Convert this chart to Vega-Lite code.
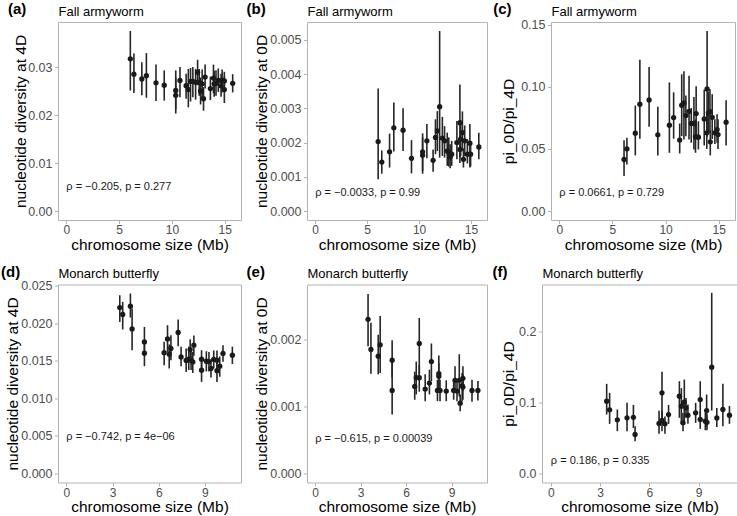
{
  "$schema": "https://vega.github.io/schema/vega-lite/v6.json",
  "padding": {"left": 0, "top": 1, "right": 0, "bottom": 0},
  "spacing": 10.5,
  "datasets": {
    "fa4d": [
      {"size": 6.06, "pi": 0.0317, "lo": 0.0251, "hi": 0.0375},
      {"size": 6.4, "pi": 0.0285, "lo": 0.0246, "hi": 0.0328},
      {"size": 7.15, "pi": 0.0275, "lo": 0.0241, "hi": 0.031},
      {"size": 7.58, "pi": 0.0282, "lo": 0.0236, "hi": 0.0329},
      {"size": 8.49, "pi": 0.0267, "lo": 0.0229, "hi": 0.0305},
      {"size": 9.27, "pi": 0.0262, "lo": 0.023, "hi": 0.0293},
      {"size": 10.36, "pi": 0.0251, "lo": 0.0212, "hi": 0.0293},
      {"size": 10.36, "pi": 0.0241, "lo": 0.0203, "hi": 0.0278},
      {"size": 10.76, "pi": 0.0272, "lo": 0.0237, "hi": 0.03},
      {"size": 11.34, "pi": 0.0261, "lo": 0.0234, "hi": 0.0286},
      {"size": 11.55, "pi": 0.0253, "lo": 0.0216, "hi": 0.0296},
      {"size": 11.76, "pi": 0.027, "lo": 0.0228, "hi": 0.0298},
      {"size": 11.98, "pi": 0.027, "lo": 0.0237, "hi": 0.03},
      {"size": 12.24, "pi": 0.0268, "lo": 0.0232, "hi": 0.0296},
      {"size": 12.43, "pi": 0.0289, "lo": 0.0262, "hi": 0.0315},
      {"size": 12.58, "pi": 0.0268, "lo": 0.024, "hi": 0.0296},
      {"size": 12.71, "pi": 0.025, "lo": 0.0222, "hi": 0.0278},
      {"size": 12.86, "pi": 0.0265, "lo": 0.0236, "hi": 0.0295},
      {"size": 12.99, "pi": 0.0234, "lo": 0.0209, "hi": 0.0258},
      {"size": 13.14, "pi": 0.0279, "lo": 0.0255, "hi": 0.0305},
      {"size": 13.64, "pi": 0.0255, "lo": 0.0231, "hi": 0.028},
      {"size": 13.93, "pi": 0.0277, "lo": 0.0245, "hi": 0.0305},
      {"size": 14.0, "pi": 0.0265, "lo": 0.0238, "hi": 0.0292},
      {"size": 14.17, "pi": 0.0266, "lo": 0.024, "hi": 0.0293},
      {"size": 14.39, "pi": 0.0272, "lo": 0.0248, "hi": 0.0297},
      {"size": 14.65, "pi": 0.0261, "lo": 0.0238, "hi": 0.0286},
      {"size": 14.75, "pi": 0.0272, "lo": 0.0247, "hi": 0.0295},
      {"size": 14.96, "pi": 0.0271, "lo": 0.0252, "hi": 0.029},
      {"size": 14.96, "pi": 0.0253, "lo": 0.0225, "hi": 0.028},
      {"size": 15.75, "pi": 0.0266, "lo": 0.0247, "hi": 0.0285}
    ],
    "fa0d": [
      {"size": 6.06, "pi": 0.00203, "lo": 0.00093, "hi": 0.00358},
      {"size": 6.41, "pi": 0.00143, "lo": 0.00109, "hi": 0.00177},
      {"size": 7.16, "pi": 0.00173, "lo": 0.00127, "hi": 0.00226},
      {"size": 7.57, "pi": 0.00243, "lo": 0.00174, "hi": 0.00317},
      {"size": 8.46, "pi": 0.00236, "lo": 0.00175, "hi": 0.003},
      {"size": 9.27, "pi": 0.00154, "lo": 0.0011, "hi": 0.00207},
      {"size": 10.34, "pi": 0.00173, "lo": 0.00117, "hi": 0.00227},
      {"size": 10.34, "pi": 0.00163, "lo": 0.00109, "hi": 0.00215},
      {"size": 10.75, "pi": 0.00205, "lo": 0.00154, "hi": 0.00254},
      {"size": 11.35, "pi": 0.00148, "lo": 0.00115, "hi": 0.0018},
      {"size": 11.58, "pi": 0.00215, "lo": 0.00166, "hi": 0.00268},
      {"size": 11.76, "pi": 0.00234, "lo": 0.00175, "hi": 0.00292},
      {"size": 11.98, "pi": 0.00305, "lo": 0.00156, "hi": 0.00526},
      {"size": 12.24, "pi": 0.00213, "lo": 0.00161, "hi": 0.00275},
      {"size": 12.45, "pi": 0.00205, "lo": 0.00156, "hi": 0.00248},
      {"size": 12.71, "pi": 0.00175, "lo": 0.00132, "hi": 0.00229},
      {"size": 12.86, "pi": 0.00171, "lo": 0.0013, "hi": 0.00215},
      {"size": 12.99, "pi": 0.00158, "lo": 0.00125, "hi": 0.00195},
      {"size": 13.14, "pi": 0.00166, "lo": 0.00132, "hi": 0.00205},
      {"size": 13.64, "pi": 0.002, "lo": 0.00151, "hi": 0.00263},
      {"size": 13.93, "pi": 0.00258, "lo": 0.00156, "hi": 0.0037},
      {"size": 13.93, "pi": 0.0018, "lo": 0.0014, "hi": 0.0022},
      {"size": 14.0, "pi": 0.0021, "lo": 0.0016, "hi": 0.0026},
      {"size": 14.17, "pi": 0.00229, "lo": 0.00175, "hi": 0.00291},
      {"size": 14.27, "pi": 0.00151, "lo": 0.00127, "hi": 0.00183},
      {"size": 14.39, "pi": 0.00205, "lo": 0.0016, "hi": 0.0025},
      {"size": 14.65, "pi": 0.00166, "lo": 0.00139, "hi": 0.0021},
      {"size": 14.89, "pi": 0.00198, "lo": 0.00127, "hi": 0.00254},
      {"size": 14.96, "pi": 0.00166, "lo": 0.0013, "hi": 0.002},
      {"size": 15.75, "pi": 0.00187, "lo": 0.00151, "hi": 0.00229}
    ],
    "faratio": [
      {"size": 6.09, "pi": 0.0415, "lo": 0.0281, "hi": 0.057},
      {"size": 6.36, "pi": 0.0501, "lo": 0.0375, "hi": 0.059},
      {"size": 7.15, "pi": 0.0627, "lo": 0.0448, "hi": 0.0849},
      {"size": 7.58, "pi": 0.086, "lo": 0.0582, "hi": 0.1219},
      {"size": 8.45, "pi": 0.0895, "lo": 0.0678, "hi": 0.116},
      {"size": 9.27, "pi": 0.0614, "lo": 0.0448, "hi": 0.0839},
      {"size": 10.36, "pi": 0.0691, "lo": 0.0469, "hi": 0.1036},
      {"size": 10.76, "pi": 0.0753, "lo": 0.0582, "hi": 0.0956},
      {"size": 11.33, "pi": 0.0571, "lo": 0.0464, "hi": 0.0705},
      {"size": 11.52, "pi": 0.0852, "lo": 0.0603, "hi": 0.1101},
      {"size": 11.73, "pi": 0.0871, "lo": 0.0576, "hi": 0.1125},
      {"size": 11.91, "pi": 0.0769, "lo": 0.0603, "hi": 0.093},
      {"size": 12.21, "pi": 0.0803, "lo": 0.0576, "hi": 0.109},
      {"size": 12.42, "pi": 0.0705, "lo": 0.055, "hi": 0.083},
      {"size": 12.67, "pi": 0.0705, "lo": 0.0496, "hi": 0.0919},
      {"size": 12.82, "pi": 0.0598, "lo": 0.0469, "hi": 0.0737},
      {"size": 12.88, "pi": 0.0785, "lo": 0.0576, "hi": 0.1004},
      {"size": 13.09, "pi": 0.0595, "lo": 0.0496, "hi": 0.0723},
      {"size": 13.64, "pi": 0.0742, "lo": 0.0528, "hi": 0.0978},
      {"size": 13.88, "pi": 0.063, "lo": 0.05, "hi": 0.08},
      {"size": 13.91, "pi": 0.0983, "lo": 0.0598, "hi": 0.145},
      {"size": 14.03, "pi": 0.079, "lo": 0.062, "hi": 0.096},
      {"size": 14.18, "pi": 0.08, "lo": 0.063, "hi": 0.098},
      {"size": 14.21, "pi": 0.0557, "lo": 0.0448, "hi": 0.0651},
      {"size": 14.39, "pi": 0.0755, "lo": 0.058, "hi": 0.094},
      {"size": 14.64, "pi": 0.063, "lo": 0.054, "hi": 0.074},
      {"size": 14.85, "pi": 0.0656, "lo": 0.055, "hi": 0.078},
      {"size": 14.94, "pi": 0.0616, "lo": 0.05, "hi": 0.074},
      {"size": 15.7, "pi": 0.0715, "lo": 0.0528, "hi": 0.0892}
    ],
    "mb4d": [
      {"size": 3.47, "pi": 0.02212, "lo": 0.0202, "hi": 0.02376},
      {"size": 3.66, "pi": 0.02119, "lo": 0.01919, "hi": 0.02287},
      {"size": 4.16, "pi": 0.02229, "lo": 0.02079, "hi": 0.02399},
      {"size": 4.27, "pi": 0.01927, "lo": 0.01643, "hi": 0.02199},
      {"size": 5.07, "pi": 0.01754, "lo": 0.0159, "hi": 0.01954},
      {"size": 5.07, "pi": 0.01603, "lo": 0.0143, "hi": 0.01754},
      {"size": 6.35, "pi": 0.0161, "lo": 0.01443, "hi": 0.01755},
      {"size": 6.57, "pi": 0.01794, "lo": 0.0162, "hi": 0.01976},
      {"size": 6.68, "pi": 0.0159, "lo": 0.014, "hi": 0.0172},
      {"size": 6.79, "pi": 0.01666, "lo": 0.0151, "hi": 0.01843},
      {"size": 7.26, "pi": 0.01879, "lo": 0.01696, "hi": 0.02052},
      {"size": 7.45, "pi": 0.01554, "lo": 0.0143, "hi": 0.01688},
      {"size": 7.78, "pi": 0.01506, "lo": 0.01354, "hi": 0.01666},
      {"size": 7.95, "pi": 0.01524, "lo": 0.0138, "hi": 0.0169},
      {"size": 8.04, "pi": 0.01652, "lo": 0.0152, "hi": 0.0179},
      {"size": 8.1, "pi": 0.0151, "lo": 0.0138, "hi": 0.0165},
      {"size": 8.21, "pi": 0.01487, "lo": 0.0134, "hi": 0.0162},
      {"size": 8.28, "pi": 0.0171, "lo": 0.0157, "hi": 0.0184},
      {"size": 8.78, "pi": 0.01524, "lo": 0.01377, "hi": 0.01643},
      {"size": 8.78, "pi": 0.01377, "lo": 0.01221, "hi": 0.01532},
      {"size": 9.09, "pi": 0.01496, "lo": 0.0136, "hi": 0.0163},
      {"size": 9.26, "pi": 0.0149, "lo": 0.0136, "hi": 0.0162},
      {"size": 9.39, "pi": 0.014, "lo": 0.0128, "hi": 0.0152},
      {"size": 9.57, "pi": 0.0152, "lo": 0.014, "hi": 0.0164},
      {"size": 9.78, "pi": 0.0151, "lo": 0.0138, "hi": 0.0164},
      {"size": 9.78, "pi": 0.0137, "lo": 0.0122, "hi": 0.0152},
      {"size": 9.96, "pi": 0.0143, "lo": 0.0129, "hi": 0.0156},
      {"size": 10.17, "pi": 0.016, "lo": 0.0149, "hi": 0.0171},
      {"size": 10.78, "pi": 0.01577, "lo": 0.0146, "hi": 0.0169}
    ],
    "mb0d": [
      {"size": 3.49, "pi": 0.0023, "lo": 0.0019, "hi": 0.00268},
      {"size": 3.68, "pi": 0.00185, "lo": 0.00149, "hi": 0.00225},
      {"size": 4.16, "pi": 0.00175, "lo": 0.00148, "hi": 0.00207},
      {"size": 4.29, "pi": 0.00192, "lo": 0.0015, "hi": 0.00235},
      {"size": 5.08, "pi": 0.00169, "lo": 0.00143, "hi": 0.00199},
      {"size": 5.08, "pi": 0.00124, "lo": 0.00088, "hi": 0.00168},
      {"size": 6.57, "pi": 0.0013, "lo": 0.0011, "hi": 0.00152},
      {"size": 6.67, "pi": 0.00143, "lo": 0.00118, "hi": 0.00167},
      {"size": 6.87, "pi": 0.00194, "lo": 0.00148, "hi": 0.00232},
      {"size": 6.87, "pi": 0.00143, "lo": 0.00122, "hi": 0.00162},
      {"size": 7.26, "pi": 0.00126, "lo": 0.00108, "hi": 0.00148},
      {"size": 7.54, "pi": 0.00135, "lo": 0.00118, "hi": 0.00155},
      {"size": 7.67, "pi": 0.00167, "lo": 0.00138, "hi": 0.00194},
      {"size": 8.07, "pi": 0.00124, "lo": 0.00108, "hi": 0.0014},
      {"size": 8.16, "pi": 0.00149, "lo": 0.00127, "hi": 0.00176},
      {"size": 8.16, "pi": 0.00145, "lo": 0.00125, "hi": 0.00165},
      {"size": 8.24, "pi": 0.00124, "lo": 0.00108, "hi": 0.0014},
      {"size": 8.65, "pi": 0.00123, "lo": 0.00108, "hi": 0.00139},
      {"size": 9.14, "pi": 0.00124, "lo": 0.0011, "hi": 0.0014},
      {"size": 9.23, "pi": 0.00139, "lo": 0.00121, "hi": 0.0016},
      {"size": 9.36, "pi": 0.00123, "lo": 0.00108, "hi": 0.0014},
      {"size": 9.51, "pi": 0.00139, "lo": 0.00115, "hi": 0.00178},
      {"size": 9.57, "pi": 0.00105, "lo": 0.00093, "hi": 0.00118},
      {"size": 9.7, "pi": 0.00131, "lo": 0.00108, "hi": 0.0015},
      {"size": 9.75, "pi": 0.00142, "lo": 0.00123, "hi": 0.0016},
      {"size": 9.75, "pi": 0.00129, "lo": 0.0011, "hi": 0.00148},
      {"size": 10.35, "pi": 0.00124, "lo": 0.00107, "hi": 0.0014},
      {"size": 10.74, "pi": 0.00124, "lo": 0.00109, "hi": 0.00138}
    ],
    "mbratio": [
      {"size": 3.4, "pi": 0.1016, "lo": 0.0829, "hi": 0.126},
      {"size": 3.58, "pi": 0.0895, "lo": 0.0698, "hi": 0.1134},
      {"size": 4.05, "pi": 0.0755, "lo": 0.0595, "hi": 0.09},
      {"size": 4.64, "pi": 0.0783, "lo": 0.0595, "hi": 0.0994},
      {"size": 5.03, "pi": 0.079, "lo": 0.064, "hi": 0.0965},
      {"size": 5.13, "pi": 0.0548, "lo": 0.0454, "hi": 0.0665},
      {"size": 6.59, "pi": 0.0703, "lo": 0.0558, "hi": 0.0883},
      {"size": 6.77, "pi": 0.1134, "lo": 0.0745, "hi": 0.1429},
      {"size": 6.77, "pi": 0.0745, "lo": 0.0595, "hi": 0.0883},
      {"size": 6.95, "pi": 0.0698, "lo": 0.0558, "hi": 0.0801},
      {"size": 7.17, "pi": 0.0829, "lo": 0.0698, "hi": 0.0965},
      {"size": 7.83, "pi": 0.1087, "lo": 0.0783, "hi": 0.1297},
      {"size": 7.95, "pi": 0.0946, "lo": 0.0698, "hi": 0.12},
      {"size": 8.05, "pi": 0.0712, "lo": 0.0595, "hi": 0.085},
      {"size": 8.13, "pi": 0.1002, "lo": 0.0712, "hi": 0.1321},
      {"size": 8.23, "pi": 0.0923, "lo": 0.0783, "hi": 0.1063},
      {"size": 8.35, "pi": 0.082, "lo": 0.0698, "hi": 0.097},
      {"size": 8.82, "pi": 0.0853, "lo": 0.0712, "hi": 0.0994},
      {"size": 9.1, "pi": 0.104, "lo": 0.0783, "hi": 0.1297},
      {"size": 9.1, "pi": 0.0759, "lo": 0.0627, "hi": 0.0876},
      {"size": 9.41, "pi": 0.0735, "lo": 0.0608, "hi": 0.0853},
      {"size": 9.49, "pi": 0.0885, "lo": 0.0655, "hi": 0.111},
      {"size": 9.51, "pi": 0.072, "lo": 0.0608, "hi": 0.083},
      {"size": 9.8, "pi": 0.1494, "lo": 0.0885, "hi": 0.254},
      {"size": 10.11, "pi": 0.078, "lo": 0.0655, "hi": 0.092},
      {"size": 10.48, "pi": 0.09, "lo": 0.0665, "hi": 0.126},
      {"size": 10.88, "pi": 0.082, "lo": 0.0698, "hi": 0.095}
    ]
  },
  "vconcat": [
    {
      "spacing": 4,
      "hconcat": [
        {
          "width": 183, "height": 198,
          "title": {"text": "(a)", "dx": -5},
          "layer": [
            {"data": {"name": "fa4d"}, "mark": {"type": "rule", "color": "#262626", "strokeWidth": 1.6},
             "encoding": {
               "x": {"field": "size", "type": "quantitative", "scale": {"domain": [-0.7875, 16.5375], "nice": false, "zero": false}, "axis": {"values": [0, 5, 10, 15], "tickCount": 10, "title": "chromosome size (Mb)"}},
               "y": {"field": "lo", "type": "quantitative", "scale": {"domain": [-0.001875, 0.039375], "nice": false, "zero": false}, "axis": {"values": [0, 0.01, 0.02, 0.03], "tickCount": 10, "format": ".2f", "titleX": -30, "labelOverlap": false}, "title": "nucleotide diversity at 4D"},
               "y2": {"field": "hi"}}},
            {"data": {"name": "fa4d"}, "mark": {"type": "point", "filled": true, "size": 28, "color": "#1a1a1a", "opacity": 1},
             "encoding": {
               "x": {"field": "size", "type": "quantitative", "scale": {"domain": [-0.7875, 16.5375], "nice": false, "zero": false}, "axis": {"orient": "top", "title": "Fall armyworm", "labels": false, "ticks": false, "titleAnchor": "start", "titleFontSize": 13, "titlePadding": 4, "minExtent": 0, "maxExtent": 0}},
               "y": {"field": "pi", "type": "quantitative", "scale": {"domain": [-0.001875, 0.039375], "nice": false, "zero": false}, "title": "nucleotide diversity at 4D"}}},
            {"data": {"values": [{"lx": 0, "ly": 0.005, "label": "ρ = −0.205, p = 0.277"}]}, "mark": {"type": "text", "align": "left", "baseline": "middle", "fontSize": 11, "color": "#1a1a1a"},
             "encoding": {
               "x": {"field": "lx", "type": "quantitative", "scale": {"domain": [-0.7875, 16.5375], "nice": false, "zero": false}, "axis": null},
               "y": {"field": "ly", "type": "quantitative", "scale": {"domain": [-0.001875, 0.039375], "nice": false, "zero": false}, "title": "nucleotide diversity at 4D"},
               "text": {"field": "label"}}}
          ],
          "resolve": {"axis": {"x": "independent"}}
        },
        {
          "width": 180, "height": 198,
          "title": {"text": "(b)", "dx": -8},
          "layer": [
            {"data": {"name": "fa0d"}, "mark": {"type": "rule", "color": "#262626", "strokeWidth": 1.6},
             "encoding": {
               "x": {"field": "size", "type": "quantitative", "scale": {"domain": [-0.7875, 16.5375], "nice": false, "zero": false}, "axis": {"values": [0, 5, 10, 15], "tickCount": 10, "title": "chromosome size (Mb)"}},
               "y": {"field": "lo", "type": "quantitative", "scale": {"domain": [-0.000263, 0.005523], "nice": false, "zero": false}, "axis": {"values": [0, 0.001, 0.002, 0.003, 0.004, 0.005], "tickCount": 10, "format": ".3f", "titleX": -37.4, "labelOverlap": false}, "title": "nucleotide diversity at 0D"},
               "y2": {"field": "hi"}}},
            {"data": {"name": "fa0d"}, "mark": {"type": "point", "filled": true, "size": 28, "color": "#1a1a1a", "opacity": 1},
             "encoding": {
               "x": {"field": "size", "type": "quantitative", "scale": {"domain": [-0.7875, 16.5375], "nice": false, "zero": false}, "axis": {"orient": "top", "title": "Fall armyworm", "labels": false, "ticks": false, "titleAnchor": "start", "titleFontSize": 13, "titlePadding": 4, "minExtent": 0, "maxExtent": 0}},
               "y": {"field": "pi", "type": "quantitative", "scale": {"domain": [-0.000263, 0.005523], "nice": false, "zero": false}, "title": "nucleotide diversity at 0D"}}},
            {"data": {"values": [{"lx": 0, "ly": 0.00054, "label": "ρ = −0.0033, p = 0.99"}]}, "mark": {"type": "text", "align": "left", "baseline": "middle", "fontSize": 11, "color": "#1a1a1a"},
             "encoding": {
               "x": {"field": "lx", "type": "quantitative", "scale": {"domain": [-0.7875, 16.5375], "nice": false, "zero": false}, "axis": null},
               "y": {"field": "ly", "type": "quantitative", "scale": {"domain": [-0.000263, 0.005523], "nice": false, "zero": false}, "title": "nucleotide diversity at 0D"},
               "text": {"field": "label"}}}
          ],
          "resolve": {"axis": {"x": "independent"}}
        },
        {
          "width": 184, "height": 198,
          "title": {"text": "(c)", "dx": -8.5},
          "layer": [
            {"data": {"name": "faratio"}, "mark": {"type": "rule", "color": "#262626", "strokeWidth": 1.6},
             "encoding": {
               "x": {"field": "size", "type": "quantitative", "scale": {"domain": [-0.7875, 16.5375], "nice": false, "zero": false}, "axis": {"values": [0, 5, 10, 15], "tickCount": 10, "title": "chromosome size (Mb)"}},
               "y": {"field": "lo", "type": "quantitative", "scale": {"domain": [-0.00725, 0.15225], "nice": false, "zero": false}, "axis": {"values": [0, 0.05, 0.1, 0.15], "tickCount": 10, "format": ".2f", "titleX": -34.3, "labelOverlap": false}, "title": "pi_0D/pi_4D"},
               "y2": {"field": "hi"}}},
            {"data": {"name": "faratio"}, "mark": {"type": "point", "filled": true, "size": 28, "color": "#1a1a1a", "opacity": 1},
             "encoding": {
               "x": {"field": "size", "type": "quantitative", "scale": {"domain": [-0.7875, 16.5375], "nice": false, "zero": false}, "axis": {"orient": "top", "title": "Fall armyworm", "labels": false, "ticks": false, "titleAnchor": "start", "titleFontSize": 13, "titlePadding": 4, "minExtent": 0, "maxExtent": 0}},
               "y": {"field": "pi", "type": "quantitative", "scale": {"domain": [-0.00725, 0.15225], "nice": false, "zero": false}, "title": "pi_0D/pi_4D"}}},
            {"data": {"values": [{"lx": 0, "ly": 0.0148, "label": "ρ = 0.0661, p = 0.729"}]}, "mark": {"type": "text", "align": "left", "baseline": "middle", "fontSize": 11, "color": "#1a1a1a"},
             "encoding": {
               "x": {"field": "lx", "type": "quantitative", "scale": {"domain": [-0.7875, 16.5375], "nice": false, "zero": false}, "axis": null},
               "y": {"field": "ly", "type": "quantitative", "scale": {"domain": [-0.00725, 0.15225], "nice": false, "zero": false}, "title": "pi_0D/pi_4D"},
               "text": {"field": "label"}}}
          ],
          "resolve": {"axis": {"x": "independent"}}
        }
      ]
    },
    {
      "spacing": 4,
      "hconcat": [
        {
          "width": 183, "height": 198,
          "title": {"text": "(d)", "dx": -4},
          "layer": [
            {"data": {"name": "mb4d"}, "mark": {"type": "rule", "color": "#262626", "strokeWidth": 1.6},
             "encoding": {
               "x": {"field": "size", "type": "quantitative", "scale": {"domain": [-0.54, 11.34], "nice": false, "zero": false}, "axis": {"values": [0, 3, 6, 9], "tickCount": 10, "title": "chromosome size (Mb)"}},
               "y": {"field": "lo", "type": "quantitative", "scale": {"domain": [-0.0012, 0.02519], "nice": false, "zero": false}, "axis": {"values": [0, 0.005, 0.01, 0.015, 0.02, 0.025], "tickCount": 10, "format": ".3f", "titleX": -38, "labelOverlap": false}, "title": "nucleotide diversity at 4D"},
               "y2": {"field": "hi"}}},
            {"data": {"name": "mb4d"}, "mark": {"type": "point", "filled": true, "size": 28, "color": "#1a1a1a", "opacity": 1},
             "encoding": {
               "x": {"field": "size", "type": "quantitative", "scale": {"domain": [-0.54, 11.34], "nice": false, "zero": false}, "axis": {"orient": "top", "title": "Monarch butterfly", "labels": false, "ticks": false, "titleAnchor": "start", "titleFontSize": 13, "titlePadding": 4, "minExtent": 0, "maxExtent": 0}},
               "y": {"field": "pi", "type": "quantitative", "scale": {"domain": [-0.0012, 0.02519], "nice": false, "zero": false}, "title": "nucleotide diversity at 4D"}}},
            {"data": {"values": [{"lx": 0, "ly": 0.00488, "label": "ρ = −0.742, p = 4e−06"}]}, "mark": {"type": "text", "align": "left", "baseline": "middle", "fontSize": 11, "color": "#1a1a1a"},
             "encoding": {
               "x": {"field": "lx", "type": "quantitative", "scale": {"domain": [-0.54, 11.34], "nice": false, "zero": false}, "axis": null},
               "y": {"field": "ly", "type": "quantitative", "scale": {"domain": [-0.0012, 0.02519], "nice": false, "zero": false}, "title": "nucleotide diversity at 4D"},
               "text": {"field": "label"}}}
          ],
          "resolve": {"axis": {"x": "independent"}}
        },
        {
          "width": 180, "height": 198,
          "title": {"text": "(e)", "dx": -8},
          "layer": [
            {"data": {"name": "mb0d"}, "mark": {"type": "rule", "color": "#262626", "strokeWidth": 1.6},
             "encoding": {
               "x": {"field": "size", "type": "quantitative", "scale": {"domain": [-0.54, 11.34], "nice": false, "zero": false}, "axis": {"values": [0, 3, 6, 9], "tickCount": 10, "title": "chromosome size (Mb)"}},
               "y": {"field": "lo", "type": "quantitative", "scale": {"domain": [-0.000134, 0.00282], "nice": false, "zero": false}, "axis": {"values": [0, 0.001, 0.002], "tickCount": 10, "format": ".3f", "titleX": -37.4, "labelOverlap": false}, "title": "nucleotide diversity at 0D"},
               "y2": {"field": "hi"}}},
            {"data": {"name": "mb0d"}, "mark": {"type": "point", "filled": true, "size": 28, "color": "#1a1a1a", "opacity": 1},
             "encoding": {
               "x": {"field": "size", "type": "quantitative", "scale": {"domain": [-0.54, 11.34], "nice": false, "zero": false}, "axis": {"orient": "top", "title": "Monarch butterfly", "labels": false, "ticks": false, "titleAnchor": "start", "titleFontSize": 13, "titlePadding": 4, "minExtent": 0, "maxExtent": 0}},
               "y": {"field": "pi", "type": "quantitative", "scale": {"domain": [-0.000134, 0.00282], "nice": false, "zero": false}, "title": "nucleotide diversity at 0D"}}},
            {"data": {"values": [{"lx": 0, "ly": 0.000518, "label": "ρ = −0.615, p = 0.00039"}]}, "mark": {"type": "text", "align": "left", "baseline": "middle", "fontSize": 11, "color": "#1a1a1a"},
             "encoding": {
               "x": {"field": "lx", "type": "quantitative", "scale": {"domain": [-0.54, 11.34], "nice": false, "zero": false}, "axis": null},
               "y": {"field": "ly", "type": "quantitative", "scale": {"domain": [-0.000134, 0.00282], "nice": false, "zero": false}, "title": "nucleotide diversity at 0D"},
               "text": {"field": "label"}}}
          ],
          "resolve": {"axis": {"x": "independent"}}
        },
        {
          "width": 195, "height": 198,
          "title": {"text": "(f)", "dx": -8.5},
          "layer": [
            {"data": {"name": "mbratio"}, "mark": {"type": "rule", "color": "#262626", "strokeWidth": 1.6},
             "encoding": {
               "x": {"field": "size", "type": "quantitative", "scale": {"domain": [-0.54, 11.34], "nice": false, "zero": false}, "axis": {"values": [0, 3, 6, 9], "tickCount": 10, "title": "chromosome size (Mb)"}},
               "y": {"field": "lo", "type": "quantitative", "scale": {"domain": [-0.01265, 0.2657], "nice": false, "zero": false}, "axis": {"values": [0, 0.1, 0.2], "tickCount": 10, "format": ".1f", "titleX": -26, "labelOverlap": false}, "title": "pi_0D/pi_4D"},
               "y2": {"field": "hi"}}},
            {"data": {"name": "mbratio"}, "mark": {"type": "point", "filled": true, "size": 28, "color": "#1a1a1a", "opacity": 1},
             "encoding": {
               "x": {"field": "size", "type": "quantitative", "scale": {"domain": [-0.54, 11.34], "nice": false, "zero": false}, "axis": {"orient": "top", "title": "Monarch butterfly", "labels": false, "ticks": false, "titleAnchor": "start", "titleFontSize": 13, "titlePadding": 4, "minExtent": 0, "maxExtent": 0}},
               "y": {"field": "pi", "type": "quantitative", "scale": {"domain": [-0.01265, 0.2657], "nice": false, "zero": false}, "title": "pi_0D/pi_4D"}}},
            {"data": {"values": [{"lx": 0, "ly": 0.0173, "label": "ρ = 0.186, p = 0.335"}]}, "mark": {"type": "text", "align": "left", "baseline": "middle", "fontSize": 11, "color": "#1a1a1a"},
             "encoding": {
               "x": {"field": "lx", "type": "quantitative", "scale": {"domain": [-0.54, 11.34], "nice": false, "zero": false}, "axis": null},
               "y": {"field": "ly", "type": "quantitative", "scale": {"domain": [-0.01265, 0.2657], "nice": false, "zero": false}, "title": "pi_0D/pi_4D"},
               "text": {"field": "label"}}}
          ],
          "resolve": {"axis": {"x": "independent"}}
        }
      ]
    }
  ],
  "config": {
    "font": "Liberation Sans",
    "background": "#ffffff",
    "view": {"stroke": "#b3b3b3", "strokeWidth": 1},
    "title": {"anchor": "start", "frame": "bounds", "fontSize": 15, "fontWeight": "bold", "color": "#000000", "offset": -12, "font": "Liberation Sans"},
    "axis": {"grid": false, "domain": false, "tickColor": "#b3b3b3", "tickSize": 3.5, "labelColor": "#4d4d4d", "labelFontSize": 12.5, "labelOverlap": false, "titleFontSize": 15.5, "titleFontWeight": "normal", "titleColor": "#000000", "labelFont": "Liberation Sans", "titleFont": "Liberation Sans"},
    "axisX": {"labelPadding": 1, "labelFontSize": 12, "titlePadding": 0, "minExtent": 17, "maxExtent": 17, "labelFlush": false},
    "axisY": {"labelPadding": 2.5}
  }
}
